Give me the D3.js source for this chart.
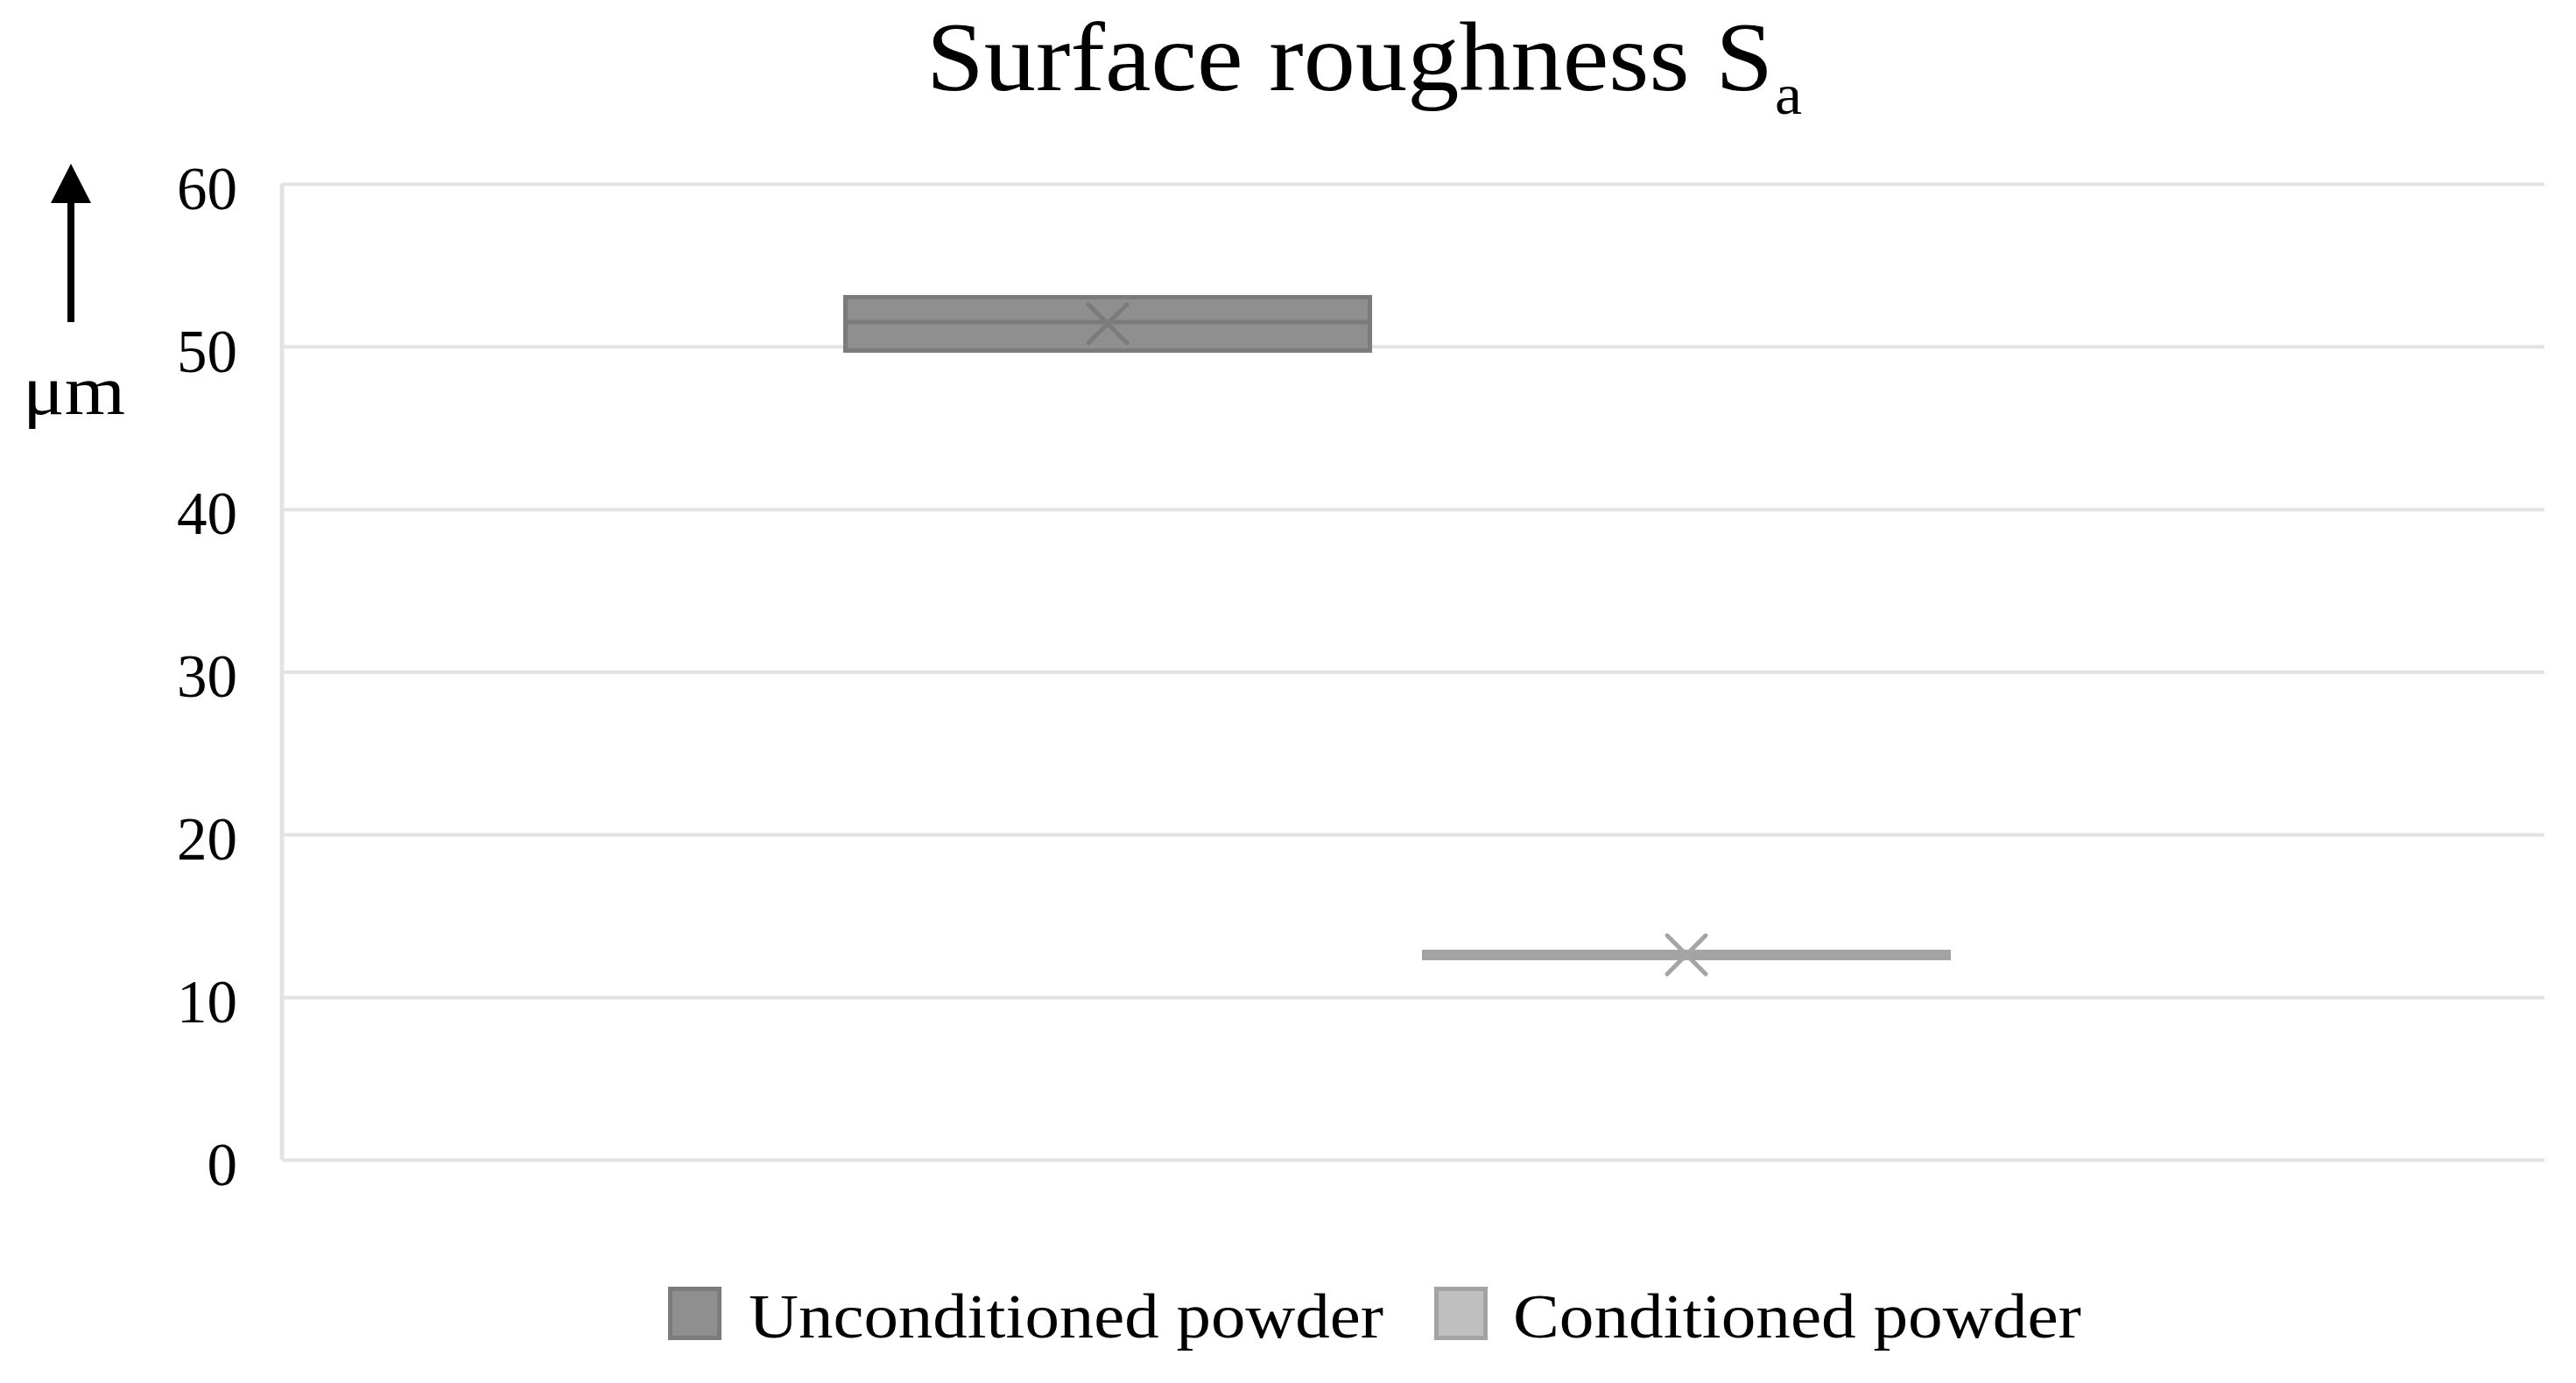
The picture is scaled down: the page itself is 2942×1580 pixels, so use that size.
<!DOCTYPE html>
<html>
<head>
<meta charset="utf-8">
<script src="https://cdn.jsdelivr.net/npm/d3@7"></script>
<style>
  html, body { margin: 0; padding: 0; background: #fff; }
  svg { display: block; }
  text { font-family: "Liberation Serif", "Times New Roman", serif; fill: #000; }
</style>
</head>
<body>
<svg id="chart" width="2942" height="1580"></svg>
<script>
// ---- data ----
const categories = ["Unconditioned powder", "Conditioned powder"];
const minValues = [49.75, 12.4];
const q1Values = [49.75, 12.4];
const medianValues = [51.5, 12.6];
const q3Values = [53.03, 12.78];
const maxValues = [53.03, 12.78];
const meanValues = [51.4, 12.6];
const yTicks = [0, 10, 20, 30, 40, 50, 60];
const titleText = "Surface roughness S";
const titleSub = "a";
const unitLabel = "μm";

// ---- styles ----
const fills = ["#8f8f8f", "#bfbfbf"];
const strokes = ["#7b7b7b", "#a3a3a3"];
const markColors = ["#7b7b7b", "#a5a5a5"];

const svg = d3.select("#chart");
svg.append("rect").attr("width", 2942).attr("height", 1580).attr("fill", "#fff");

const plotLeft = 322, plotRight = 2906, plotTop = 210, plotBottom = 1325;

const y = d3.scaleLinear().domain([0, 60]).range([plotBottom, plotTop]);
const x = d3.scaleBand().domain(categories).range([plotLeft, plotRight])
  .paddingInner(0.0862).paddingOuter(0.9977).align(0.486);

// gridlines + tick labels
const yAxis = d3.axisLeft(y).tickValues(yTicks).tickSize(-(plotRight - plotLeft)).tickPadding(51);
const gAxis = svg.append("g").attr("transform", `translate(${plotLeft},0)`).call(yAxis);
gAxis.select(".domain").remove();
gAxis.selectAll(".tick line").attr("stroke", "#e3e3e3").attr("stroke-width", 4);
gAxis.selectAll(".tick text")
  .attr("font-family", "Liberation Serif")
  .attr("font-size", 69)
  .attr("fill", "#000")
  .attr("dy", "0.41em");

// left axis line
svg.append("line")
  .attr("x1", plotLeft).attr("x2", plotLeft)
  .attr("y1", y(60)).attr("y2", y(0))
  .attr("stroke", "#e3e3e3").attr("stroke-width", 5);

// boxes
const data = categories.map((c, i) => ({
  c, i, min: minValues[i], q1: q1Values[i], med: medianValues[i],
  q3: q3Values[i], max: maxValues[i], mean: meanValues[i]
}));

const sw = 5;
const gBox = svg.append("g");
data.forEach(d => {
  const x0 = x(d.c) + sw / 2, w = x.bandwidth() - sw;
  const cx = x(d.c) + x.bandwidth() / 2;
  // whiskers
  gBox.append("line").attr("x1", cx).attr("x2", cx)
    .attr("y1", y(d.max)).attr("y2", y(d.q3))
    .attr("stroke", strokes[d.i]).attr("stroke-width", sw);
  gBox.append("line").attr("x1", cx).attr("x2", cx)
    .attr("y1", y(d.q1)).attr("y2", y(d.min))
    .attr("stroke", strokes[d.i]).attr("stroke-width", sw);
  gBox.append("rect")
    .attr("x", x0).attr("width", w)
    .attr("y", y(d.q3)).attr("height", Math.max(0, y(d.q1) - y(d.q3)))
    .attr("fill", fills[d.i]).attr("stroke", strokes[d.i]).attr("stroke-width", sw);
  gBox.append("line")
    .attr("x1", x0).attr("x2", x0 + w)
    .attr("y1", y(d.med)).attr("y2", y(d.med))
    .attr("stroke", strokes[d.i]).attr("stroke-width", sw);
  // mean marker X
  const my = y(d.mean), r = 22;
  gBox.append("path")
    .attr("d", `M${cx - r},${my - r}L${cx + r},${my + r}M${cx - r},${my + r}L${cx + r},${my - r}`)
    .attr("stroke", markColors[d.i]).attr("stroke-width", 5)
    .attr("stroke-linecap", "round").attr("fill", "none");
});

// title
svg.append("text")
  .attr("x", 1058).attr("y", 103)
  .attr("font-size", 113)
  .attr("textLength", 967).attr("lengthAdjust", "spacingAndGlyphs")
  .text(titleText);
svg.append("text")
  .attr("x", 2027).attr("y", 130)
  .attr("font-size", 66)
  .attr("textLength", 31).attr("lengthAdjust", "spacingAndGlyphs")
  .text(titleSub);

// unit arrow
svg.append("line")
  .attr("x1", 81).attr("x2", 81).attr("y1", 228).attr("y2", 368)
  .attr("stroke", "#000").attr("stroke-width", 8);
svg.append("path")
  .attr("d", "M81,187L104,232L58,232Z").attr("fill", "#000");
svg.append("text")
  .attr("x", 26).attr("y", 473)
  .attr("font-size", 80)
  .attr("textLength", 117).attr("lengthAdjust", "spacingAndGlyphs")
  .text(unitLabel);

// legend
const legendX = [763, 1638];
const legendTextX = [855, 1728];
const legendTextW = [725, 649];
const gLeg = svg.append("g");
categories.forEach((c, i) => {
  gLeg.append("rect")
    .attr("x", legendX[i] + 2.5).attr("y", 1472.5)
    .attr("width", 56).attr("height", 56)
    .attr("fill", fills[i]).attr("stroke", strokes[i]).attr("stroke-width", 5);
  gLeg.append("text")
    .attr("x", legendTextX[i]).attr("y", 1528)
    .attr("font-size", 72)
    .attr("textLength", legendTextW[i]).attr("lengthAdjust", "spacingAndGlyphs")
    .text(c);
});
</script>
</body>
</html>
